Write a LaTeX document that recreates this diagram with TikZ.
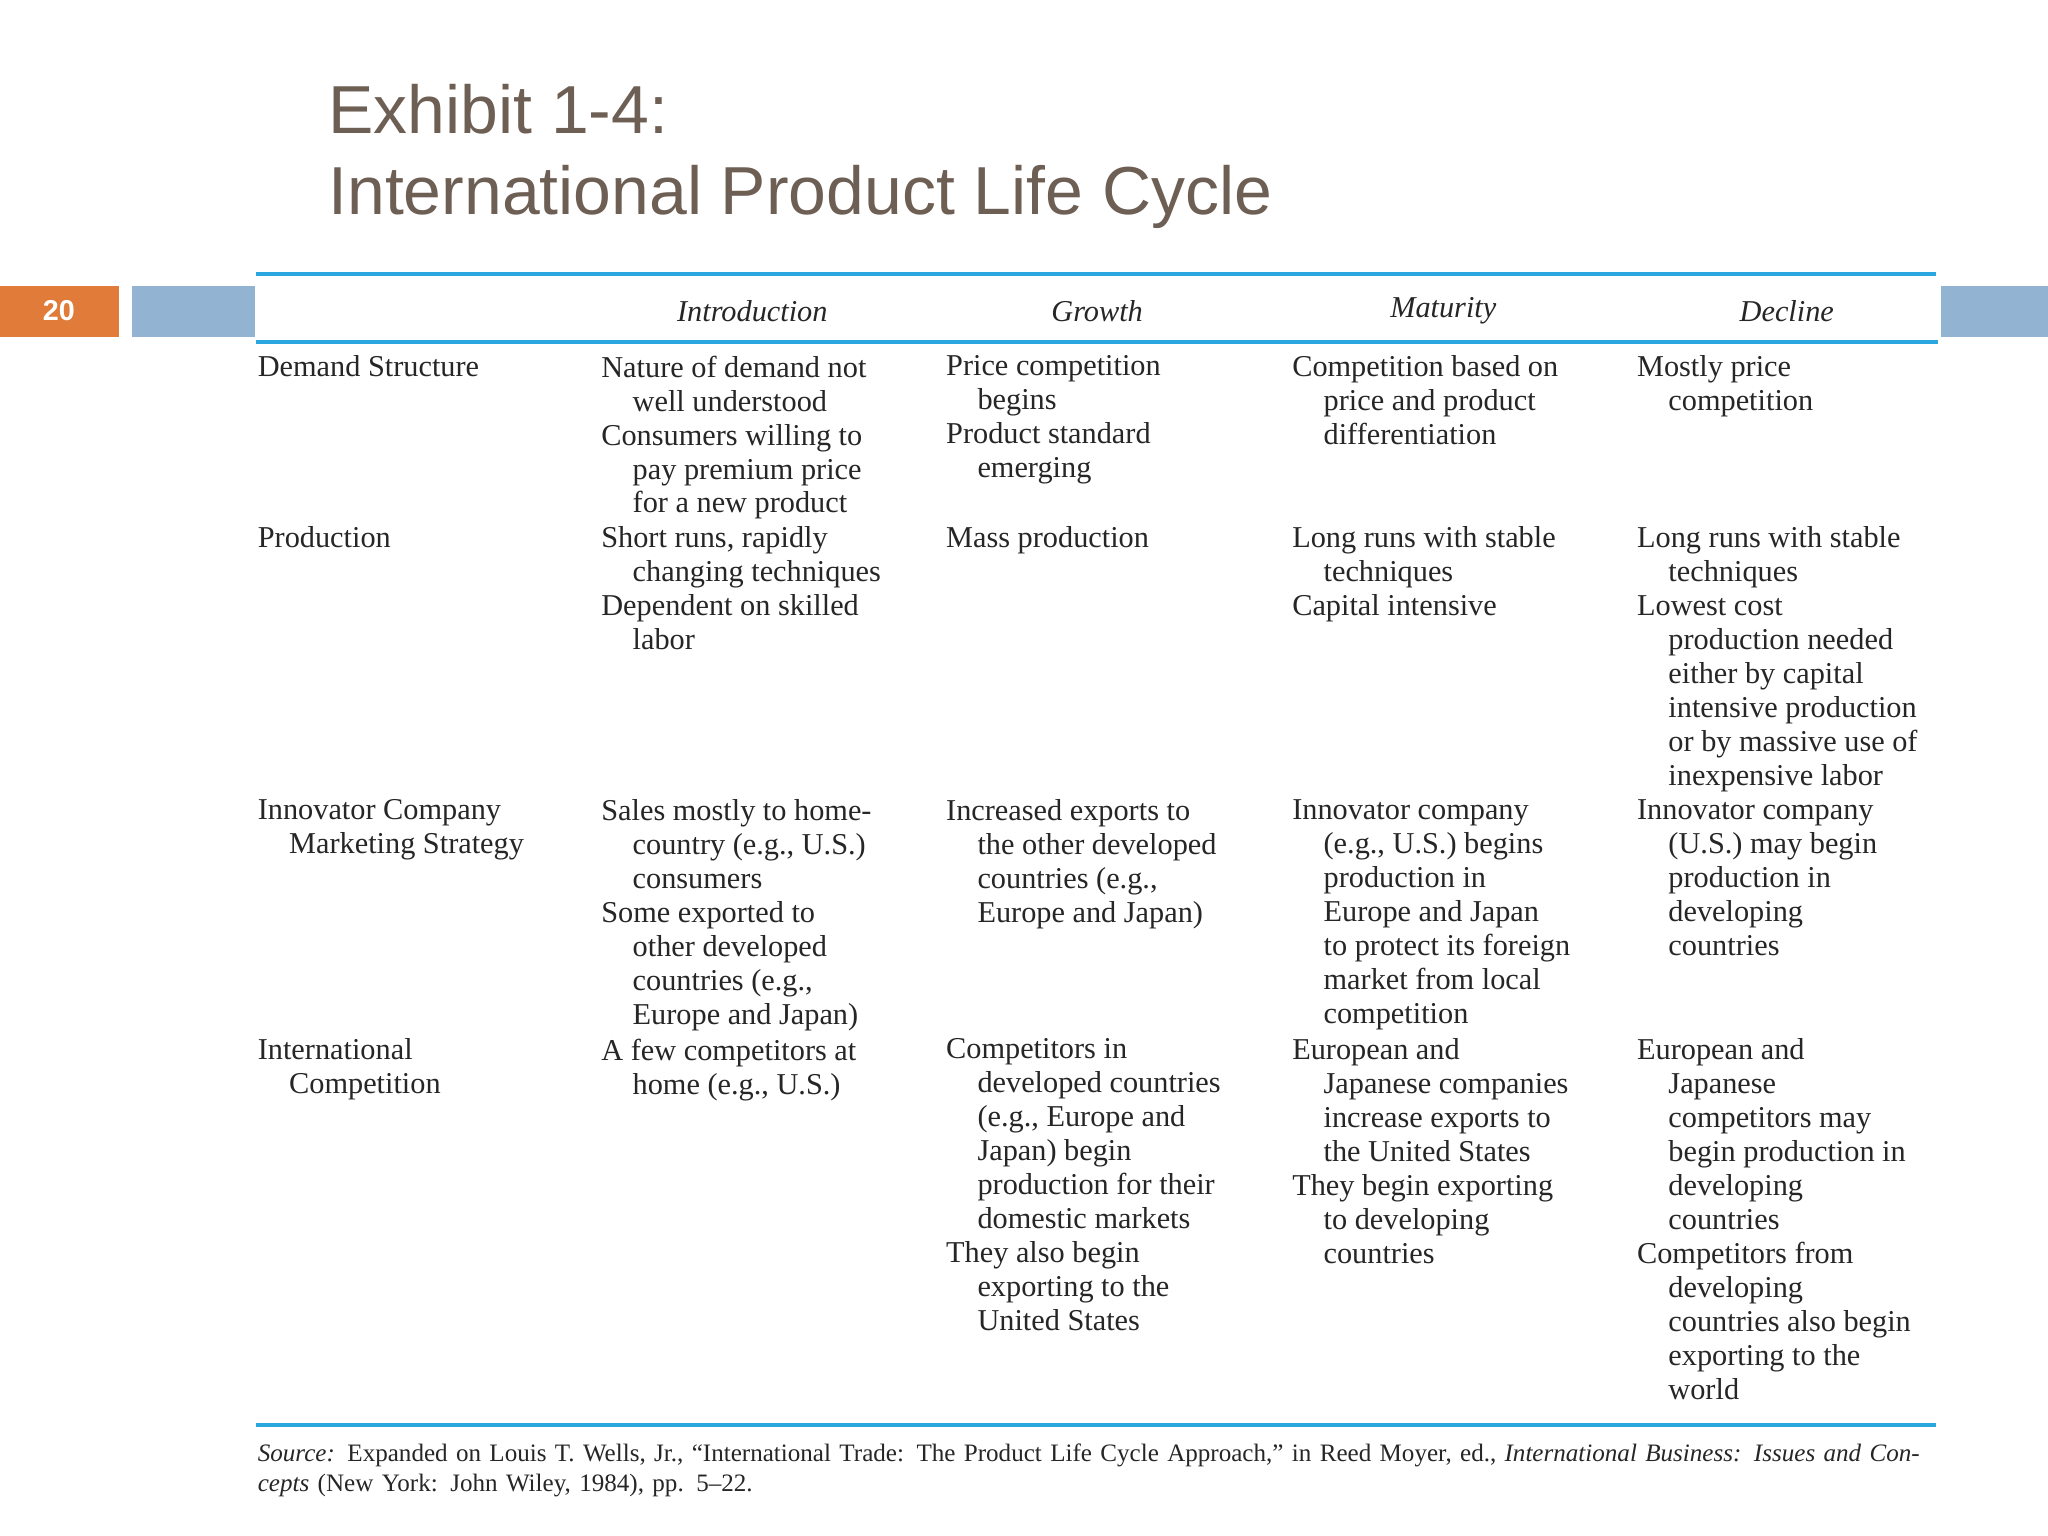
\documentclass[tikz,border=0pt]{standalone}
\usepackage{fontspec}
\setmainfont{Liberation Serif}
\newfontfamily\titlefont{Liberation Sans}
\definecolor{ttl}{HTML}{6E5F55}
\definecolor{rule}{HTML}{2AA7DE}
\definecolor{bar}{HTML}{93B3D2}
\definecolor{org}{HTML}{E07B39}
\begin{document}
\begin{tikzpicture}[x=0.5pt,y=-0.5pt,
  cell/.style={anchor=north west,align=left,inner sep=0pt,font=\fontsize{11.6}{13}\selectfont,text=black!85},
  hdr/.style={font=\fontsize{11.6}{13}\selectfont\itshape,text=black!85},
  rl/.style={rule,line width=1.5pt}]
\def\I{\hspace*{12pt}}
\useasboundingbox[fill=white] (0,0) rectangle (1568,1176);
\node[anchor=west,inner sep=0pt,font=\titlefont\fontsize{26}{31}\selectfont,text=ttl,align=left] (title) at (251,120) {Exhibit 1-4:\\International Product Life Cycle};
\fill[org] (0,219) rectangle (91,258);
\node[text=white,font=\titlefont\bfseries\fontsize{11}{13}\selectfont] (pg) at (45,238) {20};
\fill[bar] (101,219) rectangle (195,258);
\fill[bar] (1486,219) rectangle (1568,258);
\coordinate (t1) at (196,210); \coordinate (t2) at (1482,210);
\coordinate (m1) at (196,262); \coordinate (m2) at (1484,262);
\coordinate (b1) at (196,1091); \coordinate (b2) at (1482,1091);
\draw[rl] (t1)--(t2); \draw[rl] (m1)--(m2); \draw[rl] (b1)--(b2);
\node[hdr] (h1) at (576,238) {Introduction};
\node[hdr] (h2) at (840,238) {Growth};
\node[hdr] (h3) at (1105,238) {Maturity};
\node[hdr] (h4) at (1368,238) {Decline};
% row 1
\node[cell] (r1) at (197,272) {Demand Structure};
\node[cell] (r1a) at (460,272) {Nature of demand not\\\I well understood\\Consumers willing to\\\I pay premium price\\\I for a new product};
\node[cell] (r1b) at (724,272) {Price competition\\\I begins\\Product standard\\\I emerging};
\node[cell] (r1c) at (989,272) {Competition based on\\\I price and product\\\I differentiation};
\node[cell] (r1d) at (1253,272) {Mostly price\\\I competition};
% row 2
\node[cell] (r2) at (197,403) {Production};
\node[cell] (r2a) at (460,403) {Short runs, rapidly\\\I changing techniques\\Dependent on skilled\\\I labor};
\node[cell] (r2b) at (724,403) {Mass production};
\node[cell] (r2c) at (989,403) {Long runs with stable\\\I techniques\\Capital intensive};
\node[cell] (r2d) at (1253,403) {Long runs with stable\\\I techniques\\Lowest cost\\\I production needed\\\I either by capital\\\I intensive production\\\I or by massive use of\\\I inexpensive labor};
% row 3
\node[cell] (r3) at (197,612) {Innovator Company\\\I Marketing Strategy};
\node[cell] (r3a) at (460,612) {Sales mostly to home-\\\I country (e.g., U.S.)\\\I consumers\\Some exported to\\\I other developed\\\I countries (e.g.,\\\I Europe and Japan)};
\node[cell] (r3b) at (724,612) {Increased exports to\\\I the other developed\\\I countries (e.g.,\\\I Europe and Japan)};
\node[cell] (r3c) at (989,612) {Innovator company\\\I (e.g., U.S.) begins\\\I production in\\\I Europe and Japan\\\I to protect its foreign\\\I market from local\\\I competition};
\node[cell] (r3d) at (1253,612) {Innovator company\\\I (U.S.) may begin\\\I production in\\\I developing\\\I countries};
% row 4
\node[cell] (r4) at (197,795) {International\\\I Competition};
\node[cell] (r4a) at (460,795) {A few competitors at\\\I home (e.g., U.S.)};
\node[cell] (r4b) at (724,795) {Competitors in\\\I developed countries\\\I (e.g., Europe and\\\I Japan) begin\\\I production for their\\\I domestic markets\\They also begin\\\I exporting to the\\\I United States};
\node[cell] (r4c) at (989,795) {European and\\\I Japanese companies\\\I increase exports to\\\I the United States\\They begin exporting\\\I to developing\\\I countries};
\node[cell] (r4d) at (1253,795) {European and\\\I Japanese\\\I competitors may\\\I begin production in\\\I developing\\\I countries\\Competitors from\\\I developing\\\I countries also begin\\\I exporting to the\\\I world};
\node[anchor=north west,align=left,inner sep=0pt,text width=645pt,font=\fontsize{9.6}{11.6}\selectfont,text=black!85] (src) at (197,1105) {\textit{Source:} Expanded on Louis T. Wells, Jr., “International Trade: The Product Life Cycle Approach,” in Reed Moyer, ed., \textit{International Business: Issues and Concepts} (New York: John Wiley, 1984), pp. 5–22.};
\end{tikzpicture}
\end{document}
